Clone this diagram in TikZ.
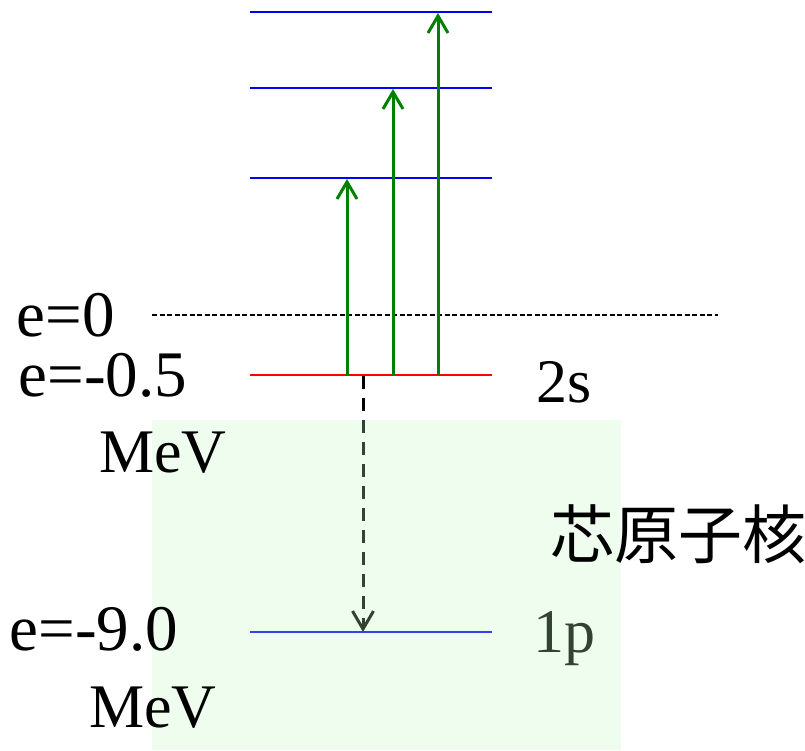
\documentclass[tikz,border=0pt]{standalone}
\usepackage{fontspec}
\setmainfont{Liberation Serif}
\newfontfamily\cjk{Noto Sans CJK JP}
\usetikzlibrary{arrows.meta}
\definecolor{levelblue}{HTML}{0000FF}
\definecolor{levelred}{HTML}{FF0000}
\definecolor{arrgreen}{HTML}{008000}
\definecolor{corefill}{HTML}{C0F8C0}
\tikzset{
  level/.style={line width=2.2pt},
  excite/.style={arrgreen, line width=3pt, -{Straight Barb[length=17pt,width=20pt,line width=3pt]}},
  decay/.style={black, line width=3pt, dash pattern=on 13pt off 9pt, -{Straight Barb[length=18pt,width=21pt,line width=3pt]}},
  lbl/.style={anchor=base west, inner sep=0pt, font=\fontsize{62}{70}\selectfont},
  elbl/.style={anchor=base west, inner sep=0pt, font=\fontsize{65}{70}\selectfont},
}
\begin{document}
\begin{tikzpicture}[x=1pt,y=-1pt]
\useasboundingbox (0,0) rectangle (805,750);
% level lines
\coordinate (l3a) at (250,12);  \coordinate (l3b) at (492,12);
\coordinate (l2a) at (250,88);  \coordinate (l2b) at (492,88);
\coordinate (l1a) at (250,178); \coordinate (l1b) at (492,178);
\coordinate (sa) at (250,375);  \coordinate (sb) at (492,375);
\coordinate (pa) at (250,632);  \coordinate (pb) at (492,632);
\coordinate (z0a) at (152,315); \coordinate (z0b) at (718,315);
\draw[level, levelblue] (l3a) -- (l3b);
\draw[level, levelblue] (l2a) -- (l2b);
\draw[level, levelblue] (l1a) -- (l1b);
\draw[level, levelred] (sa) -- (sb);
\draw[level, levelblue] (pa) -- (pb);
\draw[black, line width=1.4pt, dash pattern=on 5pt off 2.5pt] (z0a) -- (z0b);
% excitation arrows
\coordinate (e1s) at (347,375); \coordinate (e1t) at (347,179);
\coordinate (e2s) at (393,375); \coordinate (e2t) at (393,89);
\coordinate (e3s) at (438,375); \coordinate (e3t) at (438,13);
\draw[excite] (e1s) -- (e1t);
\draw[excite] (e2s) -- (e2t);
\draw[excite] (e3s) -- (e3t);
% decay arrow
\coordinate (ds) at (363,376); \coordinate (dt) at (363,632);
\draw[decay] (ds) -- (dt);
% 1p label (under the core box)
\node[lbl] (p1) at (533,652) {1p};
% core box (translucent)
\fill[corefill, fill opacity=0.27] (152,420) rectangle (621,750);
% labels
\node[elbl] (ez) at (16.5,336) {e=0};
\node[elbl] (es) at (18.5,396) {e=-0.5};
\node[lbl] (mev1) at (99,472) {MeV};
\node[lbl] (s2) at (536,402) {2s};
\node[elbl] (ep) at (9.5,650) {e=-9.0};
\node[lbl] (mev2) at (89,727) {MeV};
\node[inner sep=0pt, font=\fontsize{64}{70}\selectfont\cjk] (core) at (678,534) {芯原子核};
\end{tikzpicture}
\end{document}
